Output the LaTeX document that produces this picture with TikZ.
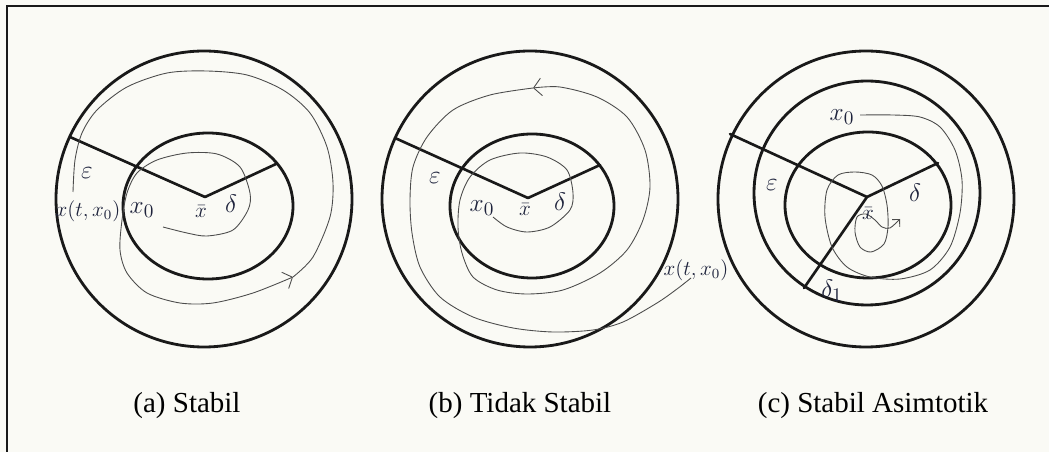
\documentclass[tikz,border=0pt]{standalone}
\usepackage{fontspec}
\setmainfont{Liberation Serif}
\usetikzlibrary{arrows.meta}
\definecolor{paper}{RGB}{250,250,245}
\definecolor{ink}{RGB}{25,25,25}
\definecolor{mathink}{RGB}{30,35,60}

\begin{document}
\begin{tikzpicture}[
	x=0.02cm, y=-0.02cm,
	ring/.style={ draw=ink, line width=1.6pt },
	arm/.style={ draw=ink, line width=1.5pt, line cap=round },
	orbit/.style={ draw=black!70, line width=0.5pt },
	orbittip/.style={ orbit, -{Straight Barb[length=4.5pt,width=10pt]} },
	lbl/.style={ inner sep=0pt, text=mathink, font=\fontsize{15.5}{17}\selectfont },
	lbls/.style={ inner sep=0pt, text=mathink, font=\fontsize{13}{15}\selectfont },
	lblt/.style={ inner sep=0pt, text=mathink, font=\fontsize{11.5}{13}\selectfont },
	capt/.style={ inner sep=0pt, anchor=base, font=\fontsize{16.5}{18}\selectfont }
]

\useasboundingbox (0,0) rectangle (1049,452);
\fill[paper] (0,0) rectangle (1049,452);
\draw[ink, line width=0.9pt] (7,452) -- (7,6) -- (1049,6);

\foreach \c in {204,530,866} \draw[ring] (\c,199) circle[radius=148];
\draw[ring] (208,206) ellipse (85 and 73);
\draw[ring] (532,206) ellipse (82 and 72);
\draw[ring] (868,205) ellipse (83 and 73);
\draw[ring] (867,193) ellipse (113 and 112);

\coordinate (centrea) at (205,197);
\coordinate (epsa) at (70,137);
\coordinate (deltaa) at (276,164);
\foreach \p in {epsa,deltaa} \draw[arm] (centrea) -- (\p);

\coordinate (centreb) at (528,198);
\coordinate (epsb) at (395,138);
\coordinate (deltab) at (600,165);
\foreach \p in {epsb,deltab} \draw[arm] (centreb) -- (\p);

\coordinate (centrec) at (867,197);
\coordinate (epsc) at (730,134);
\coordinate (deltac) at (938,163);
\coordinate (deltaonec) at (804,288);
\foreach \p in {epsc,deltac,deltaonec} \draw[arm] (centrec) -- (\p);

\draw[orbittip] plot[smooth] coordinates {(163,227) (187,233) (207,236) (233,230) (248,210) (250,193) (240,167) (217,154) (187,153) (157,160) (137,173) (127,193) (122,220) (120,250) (127,273) (147,293) (180,303) (213,303) (253,293) (293,277)};
\draw[orbit] plot[smooth] coordinates {(293,277) (313,257) (330,217) (333,183) (327,147) (310,113) (283,90) (247,75) (207,71) (167,73) (127,87) (97,110) (82,133) (75,160) (73,192)};

\draw[orbittip] plot[smooth] coordinates {(493,217) (507,227) (527,232) (550,227) (570,210) (573,193) (567,170) (547,157) (520,153) (490,160) (470,177) (460,200) (458,227) (462,253) (473,277) (497,290) (527,294) (563,290) (600,273) (627,250) (643,220) (650,187) (645,150) (627,117) (597,97) (560,87) (533,88)};
\draw[orbit] plot[smooth] coordinates {(533,88) (490,95) (453,110) (427,137) (413,167) (410,200) (412,233) (420,267) (440,297) (473,317) (513,328) (553,332) (593,330) (623,322) (657,303) (677,289) (691,278)};

\draw[orbit, -{Straight Barb[length=3pt,width=6pt]}] plot[smooth] coordinates {(860,115) (893,115) (920,117) (940,127) (955,150) (962,180) (960,213) (950,247) (930,270) (900,279) (870,277) (847,267) (832,247) (825,217) (827,190) (838,175) (855,172) (872,175) (882,186) (887,205) (888,227) (884,244) (871,252) (860,247) (855,232) (857,217) (866,214) (875,220) (882,227) (890,228) (900,219)};

\node at (87,173) (epsilona) [lbl] {$\varepsilon$};
\node at (88,211) (solutiona) [lblt] {$x(t,x_0)$};
\node at (142,210) (starta) [lbl] {$x_0$};
\node at (201,212) (eqa) [lbls] {$\bar{x}$};
\node at (231,204) (deltalabela) [lbl] {$\delta$};

\node at (435,178) (epsilonb) [lbl] {$\varepsilon$};
\node at (482,208) (startb) [lbl] {$x_0$};
\node at (525,210) (eqb) [lbls] {$\bar{x}$};
\node at (560,202) (deltalabelb) [lbl] {$\delta$};
\node at (696,270) (solutionb) [lblt] {$x(t,x_0)$};

\node at (842,117) (startc) [lbl] {$x_0$};
\node at (772,185) (epsilonc) [lbl] {$\varepsilon$};
\node at (915,193) (deltalabelc) [lbl] {$\delta$};
\node at (868,214) (eqc) [lbls] {$\bar{x}$};
\node at (832,291) (deltaonelabelc) [lbl] {$\delta_1$};

\node at (187,413) (capa) [capt] {(a) Stabil};
\node at (520,413) (capb) [capt] {(b) Tidak Stabil};
\node at (873,413) (capc) [capt] {(c) Stabil Asimtotik};

\end{tikzpicture}
\end{document}
